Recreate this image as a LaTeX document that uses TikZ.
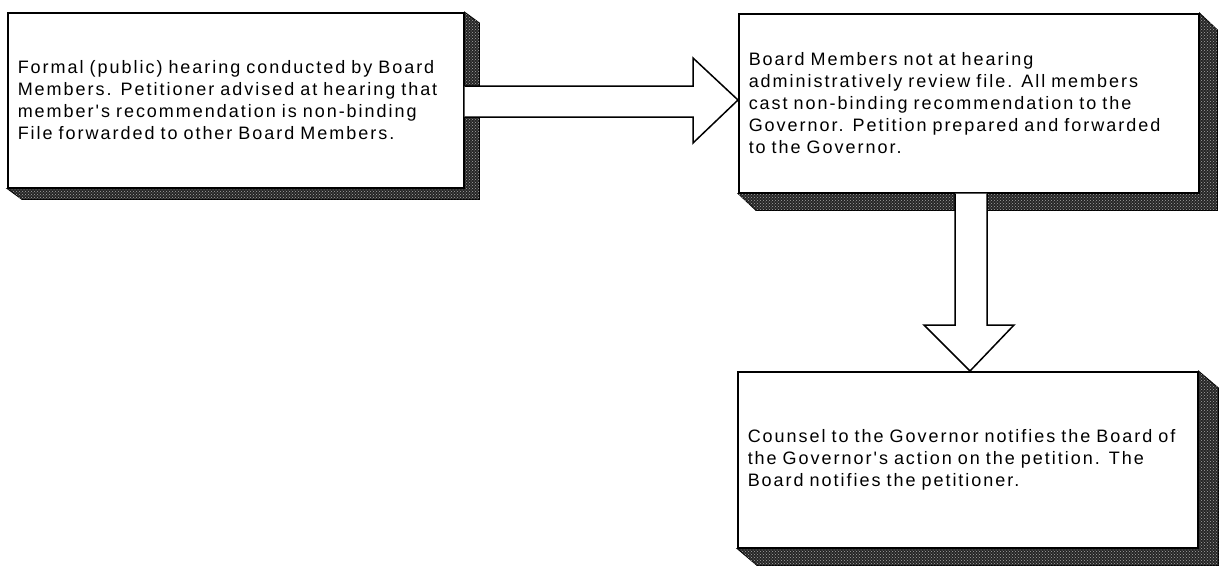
\documentclass[tikz,border=0pt]{standalone}
\usepackage{fontspec}
\newfontfamily\boxfont[LetterSpace=11]{Liberation Sans}
\usetikzlibrary{calc,patterns}
\begin{document}
\begin{tikzpicture}[x=1pt,y=-1pt,
  textbox/.style={draw=black, line width=1.5pt, fill=white, anchor=north west, align=left,
    inner xsep=10pt, font=\boxfont\fontsize{18}{22}\selectfont},
  shade3d/.style={fill=black!85, draw=black, line width=0.8pt},
  speckle/.style={pattern=crosshatch dots, pattern color=black!35},
  bigarrow/.style={draw=black, line width=1.5pt, fill=white, line join=miter}]
\useasboundingbox (0,0) rectangle (1220,565);

% boxes (placed first to get anchors; redrawn on top later)
\path node[textbox, minimum width=456pt, minimum height=175pt, text width=436pt] (b1) at (7,12)
  {Formal (public) hearing conducted by Board\\
   Members.  Petitioner advised at hearing that\\
   member's recommendation is non-binding\\
   File forwarded to other Board Members.};
\path node[textbox, minimum width=460pt, minimum height=179pt, text width=440pt] (b2) at (738,13)
  {Board Members not at hearing\\
   administratively review file.  All members\\
   cast non-binding recommendation to the\\
   Governor.  Petition prepared and forwarded\\
   to the Governor.};
\path node[textbox, minimum width=460pt, minimum height=176pt, text width=440pt] (b3) at (737,371)
  {Counsel to the Governor notifies the Board of\\
   the Governor's action on the petition.  The\\
   Board notifies the petitioner.};

% shadows
\foreach \b/\dx/\dy in {b1/15/11, b2/18/17, b3/20/17}{
  \draw[shade3d] (\b.north east) -- ++(\dx,\dy) -- ($(\b.south east)+(\dx,\dy)$)
    -- ($(\b.south west)+(\dx,\dy)$) -- (\b.south west) -- (\b.south east) -- cycle;
  \fill[speckle] (\b.north east) -- ++(\dx,\dy) -- ($(\b.south east)+(\dx,\dy)$)
    -- ($(\b.south west)+(\dx,\dy)$) -- (\b.south west) -- (\b.south east) -- cycle;
}

% boxes on top of shadows
\node[textbox, minimum width=456pt, minimum height=175pt, text width=436pt] at (b1.north west)
  {Formal (public) hearing conducted by Board\\
   Members.  Petitioner advised at hearing that\\
   member's recommendation is non-binding\\
   File forwarded to other Board Members.};
\node[textbox, minimum width=460pt, minimum height=179pt, text width=440pt] at (b2.north west)
  {Board Members not at hearing\\
   administratively review file.  All members\\
   cast non-binding recommendation to the\\
   Governor.  Petition prepared and forwarded\\
   to the Governor.};
\node[textbox, minimum width=460pt, minimum height=176pt, text width=440pt] at (b3.north west)
  {Counsel to the Governor notifies the Board of\\
   the Governor's action on the petition.  The\\
   Board notifies the petitioner.};

% arrow b1 -> b2
\draw[bigarrow] ($(b1.north east)+(0,74)$) -- ($(b2.north west)+(-45,73)$)
  -- ($(b2.north west)+(-45,45)$) -- ($(b2.north west)+(0,87)$)
  -- ($(b2.north west)+(-45,130)$) -- ($(b2.north west)+(-45,104)$)
  -- ($(b1.north east)+(0,105)$);

% arrow b2 -> b3
\draw[bigarrow] ($(b2.south west)+(217,0)$) -- ($(b3.north west)+(218,-46)$)
  -- ($(b3.north west)+(187,-46)$) -- ($(b3.north west)+(233,0)$)
  -- ($(b3.north west)+(277,-46)$) -- ($(b3.north west)+(250,-46)$)
  -- ($(b2.south west)+(249,0)$);
\end{tikzpicture}
\end{document}
